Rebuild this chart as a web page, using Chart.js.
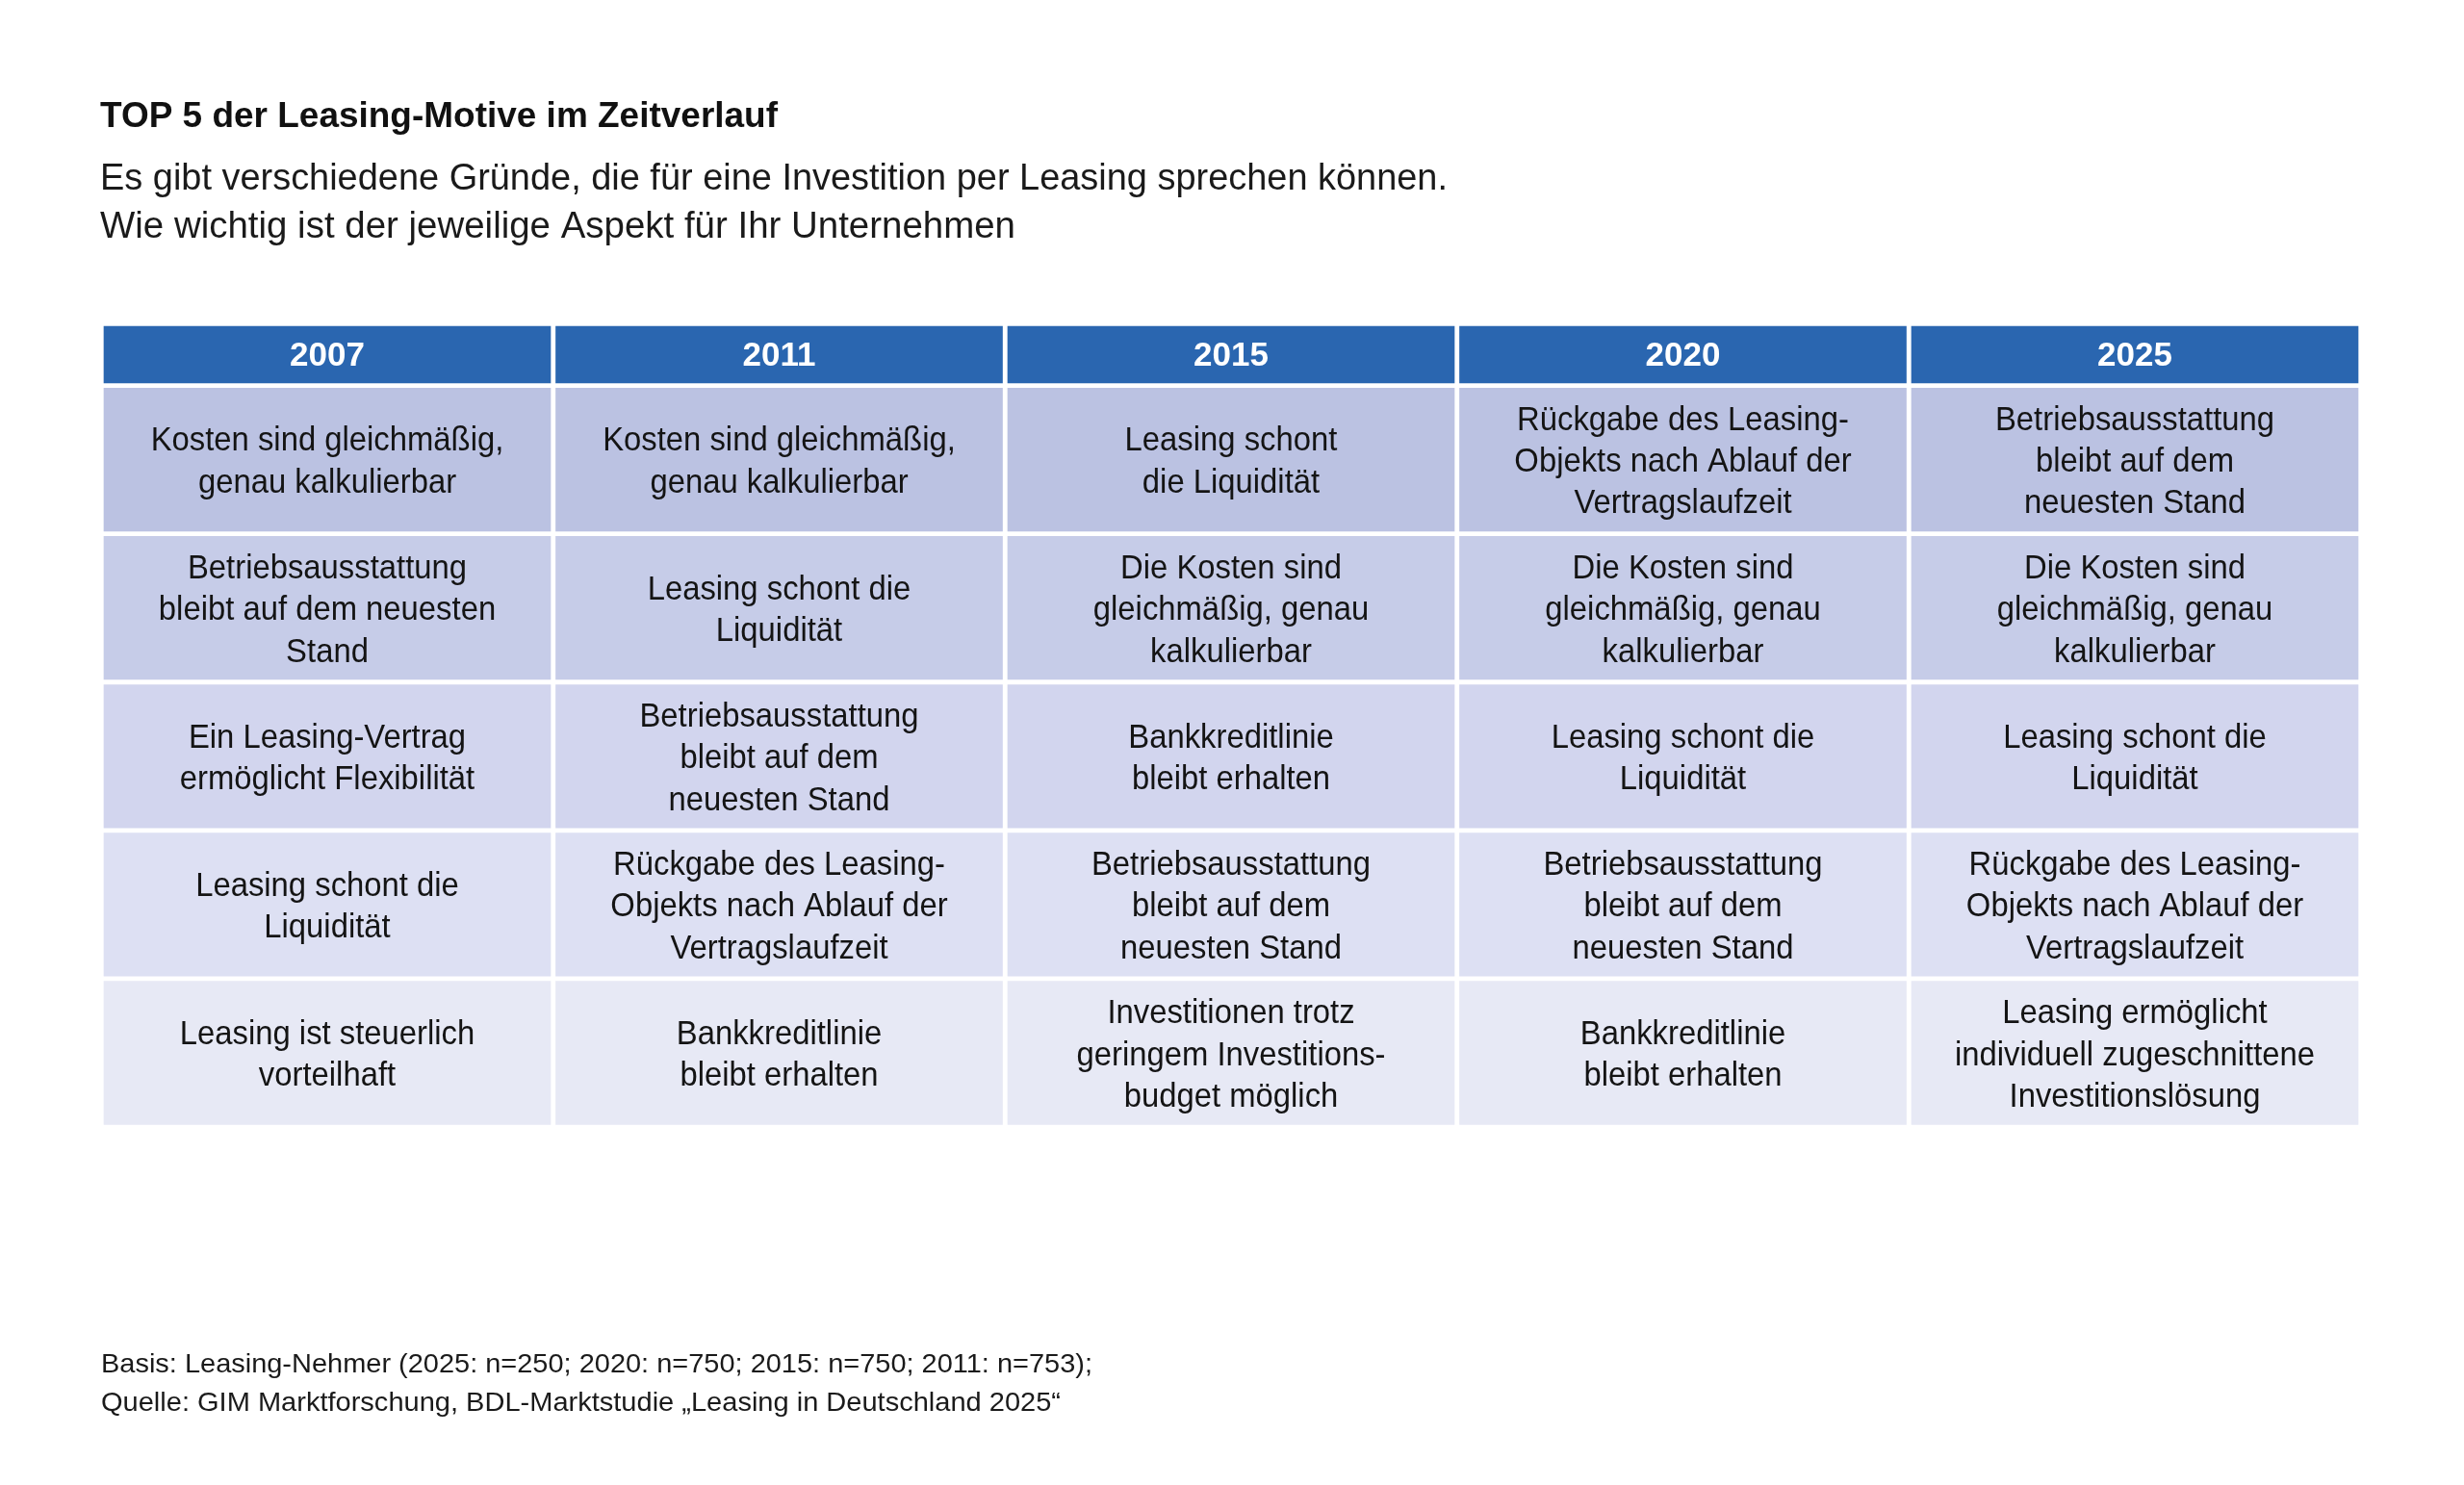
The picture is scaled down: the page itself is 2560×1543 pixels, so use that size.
<!DOCTYPE html>
<html>
<head>
<meta charset="utf-8">
<script src="https://cdn.jsdelivr.net/npm/chart.js@4.4.1/dist/chart.umd.min.js"></script>
<style>
  html, body { margin: 0; padding: 0; background: #ffffff; }
  #wrap { width: 2560px; height: 1543px; position: relative; }
  canvas { display: block; }
</style>
</head>
<body>
<div id="wrap"><canvas id="c" width="2560" height="1543"></canvas></div>
<script>
// ---------- DATA ----------
const years = ['2007', '2011', '2015', '2020', '2025'];
const ranks = [1, 2, 3, 4, 5];

const motives2007 = [
  'Kosten sind gleichmäßig,\ngenau kalkulierbar',
  'Betriebsausstattung\nbleibt auf dem neuesten\nStand',
  'Ein Leasing-Vertrag\nermöglicht Flexibilität',
  'Leasing schont die\nLiquidität',
  'Leasing ist steuerlich\nvorteilhaft'
];
const motives2011 = [
  'Kosten sind gleichmäßig,\ngenau kalkulierbar',
  'Leasing schont die\nLiquidität',
  'Betriebsausstattung\nbleibt auf dem\nneuesten Stand',
  'Rückgabe des Leasing-\nObjekts nach Ablauf der\nVertragslaufzeit',
  'Bankkreditlinie\nbleibt erhalten'
];
const motives2015 = [
  'Leasing schont\ndie Liquidität',
  'Die Kosten sind\ngleichmäßig, genau\nkalkulierbar',
  'Bankkreditlinie\nbleibt erhalten',
  'Betriebsausstattung\nbleibt auf dem\nneuesten Stand',
  'Investitionen trotz\ngeringem Investitions-\nbudget möglich'
];
const motives2020 = [
  'Rückgabe des Leasing-\nObjekts nach Ablauf der\nVertragslaufzeit',
  'Die Kosten sind\ngleichmäßig, genau\nkalkulierbar',
  'Leasing schont die\nLiquidität',
  'Betriebsausstattung\nbleibt auf dem\nneuesten Stand',
  'Bankkreditlinie\nbleibt erhalten'
];
const motives2025 = [
  'Betriebsausstattung\nbleibt auf dem\nneuesten Stand',
  'Die Kosten sind\ngleichmäßig, genau\nkalkulierbar',
  'Leasing schont die\nLiquidität',
  'Rückgabe des Leasing-\nObjekts nach Ablauf der\nVertragslaufzeit',
  'Leasing ermöglicht\nindividuell zugeschnittene\nInvestitionslösung'
];

const titleText = 'TOP 5 der Leasing-Motive im Zeitverlauf';
const subtitleLines = [
  'Es gibt verschiedene Gründe, die für eine Investition per Leasing sprechen können.',
  'Wie wichtig ist der jeweilige Aspekt für Ihr Unternehmen'
];
const footerLines = [
  'Basis: Leasing-Nehmer (2025: n=250; 2020: n=750; 2015: n=750; 2011: n=753);',
  'Quelle: GIM Marktforschung, BDL-Marktstudie „Leasing in Deutschland 2025“'
];

// ---------- STYLE / LAYOUT ----------
const motivesByYear = [motives2007, motives2011, motives2015, motives2020, motives2025];
const rowColors = ['#bbc2e2', '#c6cce8', '#d2d5ee', '#dde0f3', '#e7e9f5'];
const headerColor = '#2a66b0';
const HEADER_TOP = 0.0827;   // header band spans from this value to 0.5 on the rank axis
const FONT = '"Liberation Sans", Arial, "Helvetica Neue", sans-serif';
const subtitleWidths = [1400, 951];
const footerWidths = [1030, 997];

const datasets = [{
  label: 'header',
  data: years.map(() => [HEADER_TOP, 0.5]),
  backgroundColor: headerColor,
  texts: years.map(y => y),
  isHeader: true
}].concat(ranks.map((r, i) => ({
  label: 'Rang ' + r,
  data: years.map(() => [r - 0.5, r + 0.5]),
  backgroundColor: rowColors[i],
  texts: motivesByYear.map(col => col[i]),
  isHeader: false
})));

datasets.forEach(ds => {
  ds.borderColor = '#ffffff';
  ds.borderWidth = 2.75;
  ds.borderSkipped = false;
  ds.grouped = false;
  ds.barPercentage = 1;
  ds.categoryPercentage = 1;
});

function drawScaled(ctx, text, x, y, sx, align) {
  ctx.save();
  ctx.translate(x, y);
  ctx.scale(sx, 1);
  ctx.textAlign = align;
  ctx.textBaseline = 'alphabetic';
  ctx.fillText(text, 0, 0);
  ctx.restore();
}

function drawFitted(ctx, text, x, y, width) {
  const sx = width / ctx.measureText(text).width;
  drawScaled(ctx, text, x, y, sx, 'left');
}

const textPlugin = {
  id: 'tableText',
  afterDatasetsDraw(chart) {
    const ctx = chart.ctx;
    const cellFont = '35px ' + FONT;
    ctx.save();
    ctx.font = cellFont;
    const cellSx = 374 / ctx.measureText('individuell zugeschnittene').width;
    const capH = 25, lineH = 43.3;
    chart.data.datasets.forEach((ds, di) => {
      const meta = chart.getDatasetMeta(di);
      meta.data.forEach((el, i) => {
        const p = el.getProps(['x', 'y', 'base'], true);
        const cy = (p.y + p.base) / 2;
        if (ds.isHeader) {
          ctx.font = 'bold 35px ' + FONT;
          ctx.fillStyle = '#ffffff';
          drawScaled(ctx, ds.texts[i], p.x, cy + 11.5, 1, 'center');
        } else {
          ctx.font = cellFont;
          ctx.fillStyle = '#141414';
          const lines = ds.texts[i].split('\n');
          const b0 = cy - ((lines.length - 1) * lineH - capH) / 2;
          lines.forEach((ln, k) => drawScaled(ctx, ln, p.x, b0 + k * lineH, cellSx, 'center'));
        }
      });
    });
    ctx.restore();
  },
  afterDraw(chart) {
    const ctx = chart.ctx;
    ctx.save();
    ctx.fillStyle = '#111111';
    ctx.font = 'bold 37px ' + FONT;
    drawFitted(ctx, titleText, 104, 132, 704);
    ctx.fillStyle = '#1a1a1a';
    ctx.font = '38px ' + FONT;
    subtitleLines.forEach((ln, k) => drawFitted(ctx, ln, 104, 197 + k * 50, subtitleWidths[k]));
    ctx.font = '28px ' + FONT;
    footerLines.forEach((ln, k) => drawFitted(ctx, ln, 105, 1426 + k * 39.5, footerWidths[k]));
    ctx.restore();
  }
};

new Chart(document.getElementById('c'), {
  type: 'bar',
  data: { labels: years, datasets: datasets },
  options: {
    responsive: false,
    animation: false,
    devicePixelRatio: 1,
    layout: { padding: { left: 105.25, right: 107.25, top: 336.25, bottom: 371.95 } },
    plugins: { legend: { display: false }, tooltip: { enabled: false }, title: { display: false } },
    scales: {
      x: { type: 'category', display: false, offset: true, grid: { display: false } },
      y: { type: 'linear', display: false, reverse: true, min: HEADER_TOP, max: 5.5, grid: { display: false } }
    }
  },
  plugins: [textPlugin]
});
</script>
</body>
</html>
